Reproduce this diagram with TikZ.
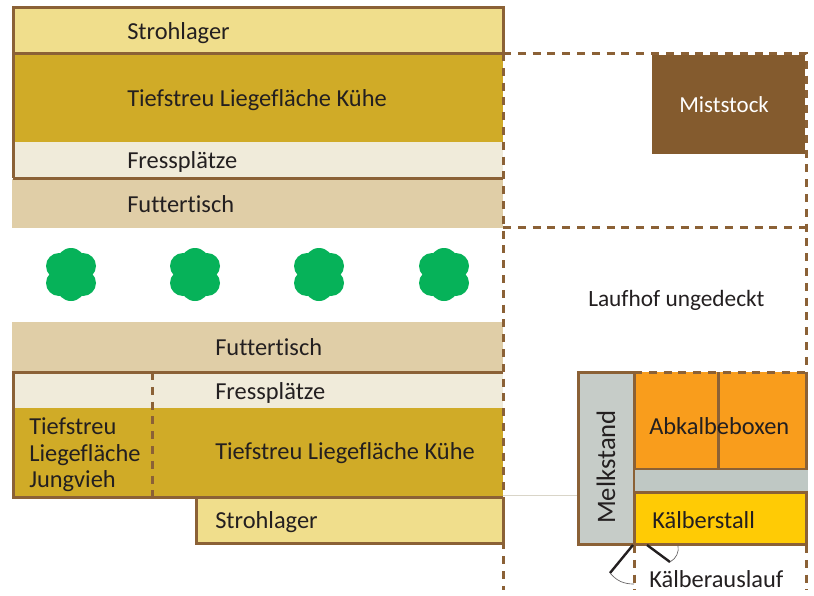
\documentclass[tikz,border=0pt]{standalone}
\usepackage{fontspec}
\setmainfont[Ligatures=NoCommon]{Carlito}
\usetikzlibrary{positioning}
\definecolor{strawfill}{HTML}{F0DE8C}
\definecolor{goldfill}{HTML}{D0AB27}
\definecolor{feedfill}{HTML}{F0EBDA}
\definecolor{tablefill}{HTML}{E0CEA7}
\definecolor{wallbrown}{HTML}{8B6136}
\definecolor{dungbrown}{HTML}{845B2E}
\definecolor{treegreen}{HTML}{06B259}
\definecolor{milkgrey}{HTML}{C6CCC8}
\definecolor{bandgrey}{HTML}{BFC8C4}
\definecolor{boxorange}{HTML}{F99D1C}
\definecolor{calfyellow}{HTML}{FFCB05}
\definecolor{textdark}{HTML}{231F20}
\begin{document}
\begin{tikzpicture}[x=0.75pt, y=-0.75pt,
							every node/.style={inner sep=0pt, text=textdark, font=\fontsize{18.3}{20}\selectfont},
							lab/.style={anchor=west},
							wall/.style={draw=wallbrown, line width=2.25pt},
							fence/.style={draw=wallbrown, line width=2.25pt, dash pattern=on 6pt off 5.1pt},
							door/.style={draw=textdark, line width=1.8pt},
							swing/.style={draw=textdark!70, line width=0.5pt}]

			\path[use as bounding box] (0,0) rectangle (814,596);

			% upper barn
			\fill[strawfill] (13,7) rectangle (503,53);
			\fill[goldfill] (13,53) rectangle (503,142);
			\fill[feedfill] (13,142) rectangle (503,178);
			\fill[tablefill] (12,179) rectangle (503,228);
			\draw[wall] (13,178) -- (13,7) -- (503,7) -- (503,53) -- (13,53);
			\draw[wall] (13,178) -- (503,178);

			% lower barn
			\fill[tablefill] (12,322) rectangle (503,372);
			\fill[feedfill] (13,372) rectangle (503,408);
			\fill[goldfill] (13,408) rectangle (503,497);
			\fill[strawfill] (196,497) rectangle (503,543);
			\draw[wall] (503,372) -- (13,372) -- (13,497) -- (503,497);
			\draw[wall] (196,497) -- (196,543) -- (503,543) -- (503,497);
			\draw[fence] (152,372) -- (152,497);

			% trees
			\foreach \tx in {71,195,319,444} {
				\fill[treegreen] (\tx,262) circle (14);
				\fill[treegreen] (\tx,287) circle (14);
				\fill[treegreen] (\tx-12,266) circle (13);
				\fill[treegreen] (\tx+12,266) circle (13);
				\fill[treegreen] (\tx-12,283) circle (13);
				\fill[treegreen] (\tx+12,283) circle (13);
			}

			% yard
			\draw[fence] (503,53) -- (806,53) -- (806,372);
			\draw[fence] (503,227) -- (806,227);
			\draw[fence] (503,53) -- (503,590);
			\draw[fence] (634,545) -- (634,590);
			\draw[fence] (806,545) -- (806,590);
			\draw[draw=feedfill!80!gray, line width=0.5pt] (503,495) -- (578,495);

			\fill[dungbrown] (652,55) rectangle (805,154);

			% milking and calves
			\draw[wall, fill=milkgrey] (578,372) rectangle (634,544);
			\fill[boxorange] (634,372) rectangle (806,469);
			\draw[wall] (634,372) -- (634,469) -- (806,469) -- (806,372);
			\draw[wall] (718,372) -- (718,469);
			\draw[fence] (634,372) -- (806,372);
			\fill[bandgrey] (635,470) rectangle (808,492);
			\draw[wall, fill=calfyellow] (634,492) rectangle (806,544);

			% doors
			\draw[door] (633,545) -- (610,573);
			\draw[swing] (610,573) to[bend right=25] (634,584);
			\draw[door] (647,545) -- (670,562);
			\draw[swing] (670,562) to[bend right=35] (678,545);

			% labels
			\node[lab] (SL1) at (127,33) {Strohlager};
			\node[lab] (TL1) at (127,100) {Tiefstreu Liegefläche Kühe};
			\node[lab] (FP1) at (127,162) {Fressplätze};
			\node[lab] (FT1) at (127,204) {Futtertisch};
			\node[lab] (FT2) at (215,347) {Futtertisch};
			\node[lab] (FP2) at (215,393) {Fressplätze};
			\node[lab] (TL2) at (215,453) {Tiefstreu Liegefläche Kühe};
			\node[lab] (SL2) at (215,522) {Strohlager};
			\node[lab, align=left, font=\fontsize{18.3}{20}\selectfont] (JV) at (29,455) {Tiefstreu\\Liegefläche\\Jungvieh};
			\node[lab, text=white, font=\fontsize{17.2}{18}\selectfont] (MS) at (679,105) {Miststock};
			\node[lab, font=\fontsize{17.5}{18}\selectfont] (LH) at (588,300) {Laufhof ungedeckt};
			\node[rotate=90, font=\fontsize{20}{22}\selectfont] (ME) at (606,467) {Melkstand};
			\node[lab] (AB) at (649,426) {Abkalbeboxen};
			\node[lab] (KS) at (652,520) {Kälberstall};
			\node[lab] (KA) at (649,579) {Kälberauslauf};

		\end{tikzpicture}
\end{document}
